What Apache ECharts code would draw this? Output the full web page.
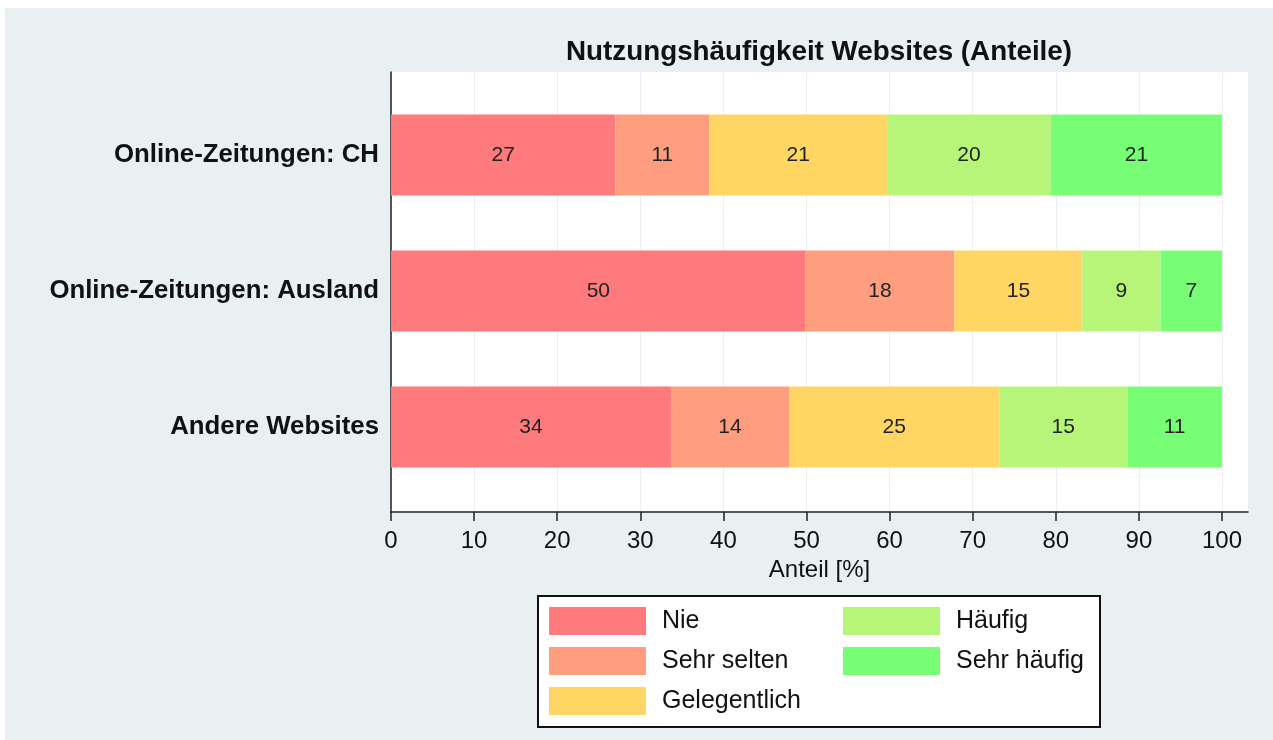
<!DOCTYPE html>
<html>
<head>
<meta charset="utf-8">
<title>Nutzungshäufigkeit Websites</title>
<script src="https://cdn.jsdelivr.net/npm/echarts@6.0.0/dist/echarts.min.js"></script>
<style>
  html, body { margin: 0; padding: 0; background: #fff; }
  #chart {
    position: absolute;
    left: 5px;
    top: 8px;
    width: 1268px;
    height: 732px;
    background: #e8f0f2;
  }
</style>
</head>
<body>
<div id="chart"></div>
<script>
// Kategorien (von oben nach unten)
const categories = ['Online-Zeitungen: CH', 'Online-Zeitungen: Ausland', 'Andere Websites']
// Antwortstufen
const levels = ['Nie', 'Sehr selten', 'Gelegentlich', 'Häufig', 'Sehr häufig']
// Anteile in % je Stufe (Reihenfolge wie categories)
const nie = [27.0, 49.9, 33.7]
const sehrSelten = [11.3, 17.9, 14.2]
const gelegentlich = [21.4, 15.4, 25.3]
const haeufig = [19.7, 9.4, 15.4]
const sehrHaeufig = [20.6, 7.4, 11.4]
// Achsenbeschriftung
const xTicks = [0, 10, 20, 30, 40, 50, 60, 70, 80, 90, 100]

const values = [nie, sehrSelten, gelegentlich, haeufig, sehrHaeufig]
const colors = ['#ff7a7d', '#ff9e7f', '#ffd563', '#b6f578', '#78fe74']
const font = 'Liberation Sans, Arial, Helvetica, sans-serif'
const xMax = 103.13 // Plotbereich ragt rechts etwas über 100 hinaus

const chart = echarts.init(document.getElementById('chart'))

const option = {
  animation: false,
  textStyle: { fontFamily: font },
  title: {
    text: 'Nutzungshäufigkeit Websites (Anteile)',
    left: 561,
    top: 30,
    padding: 0,
    textStyle: { fontSize: 27.8, fontWeight: 'bold', color: '#111', fontFamily: font }
  },
  grid: [
    // Rahmen / Hintergrund des Plotbereichs
    { left: 386, top: 64, width: 857, height: 440, show: true, backgroundColor: '#fff', borderWidth: 0 },
    // Balkenbereich (etwas eingerückt wie im Original)
    { left: 386, top: 79, width: 857, height: 408 }
  ],
  xAxis: [
    {
      gridIndex: 0,
      type: 'value',
      min: 0,
      max: xMax,
      interval: 10,
      name: 'Anteil [%]',
      nameLocation: 'middle',
      nameGap: 43,
      nameTextStyle: { fontSize: 24, color: '#111', fontFamily: font },
      axisLine: { show: true, onZero: false, lineStyle: { color: '#222', width: 1.5 } },
      axisTick: { show: true, length: 9, customValues: xTicks, lineStyle: { color: '#222', width: 1.5 } },
      axisLabel: { fontSize: 24, color: '#111', margin: 17, customValues: xTicks },
      splitLine: { show: true, lineStyle: { color: '#e9f0f3', width: 1 } }
    },
    { gridIndex: 1, type: 'value', min: 0, max: xMax, show: false }
  ],
  yAxis: [
    {
      gridIndex: 0,
      type: 'value',
      min: 0,
      max: 1,
      axisLine: { show: true, lineStyle: { color: '#222', width: 1.5 } },
      axisTick: { show: false },
      axisLabel: { show: false },
      splitLine: { show: false }
    },
    {
      gridIndex: 1,
      type: 'category',
      inverse: true,
      data: categories,
      axisLine: { show: false },
      axisTick: { show: false },
      axisLabel: { fontSize: 25.8, fontWeight: 'bold', color: '#111', margin: 12, padding: [3, 0, 0, 0] }
    }
  ],
  legend: [
    {
      data: levels.slice(0, 3),
      orient: 'vertical',
      left: 544,
      top: 599,
      padding: 0,
      itemWidth: 97,
      itemHeight: 28,
      itemGap: 12,
      icon: 'rect',
      selectedMode: false,
      textStyle: { fontSize: 25, color: '#111', padding: [0, 0, 0, 11] }
    },
    {
      data: levels.slice(3),
      orient: 'vertical',
      left: 838,
      top: 599,
      padding: 0,
      itemWidth: 97,
      itemHeight: 28,
      itemGap: 12,
      icon: 'rect',
      selectedMode: false,
      textStyle: { fontSize: 25, color: '#111', padding: [0, 0, 0, 11] }
    }
  ],
  graphic: [
    { // Legendenrahmen
      type: 'rect',
      shape: { x: 533, y: 588, width: 562, height: 131 },
      style: { fill: '#fff', stroke: '#111', lineWidth: 2 },
      z: 1
    }
  ],
  series: levels.map((name, i) => ({
    name: name,
    type: 'bar',
    stack: 'total',
    xAxisIndex: 1,
    yAxisIndex: 1,
    barWidth: 81,
    itemStyle: { color: colors[i] },
    label: {
      show: true,
      position: 'inside',
      fontSize: 21,
      color: '#222',
      formatter: p => Math.round(p.value)
    },
    data: values[i]
  }))
}

chart.setOption(option)
</script>
</body>
</html>
